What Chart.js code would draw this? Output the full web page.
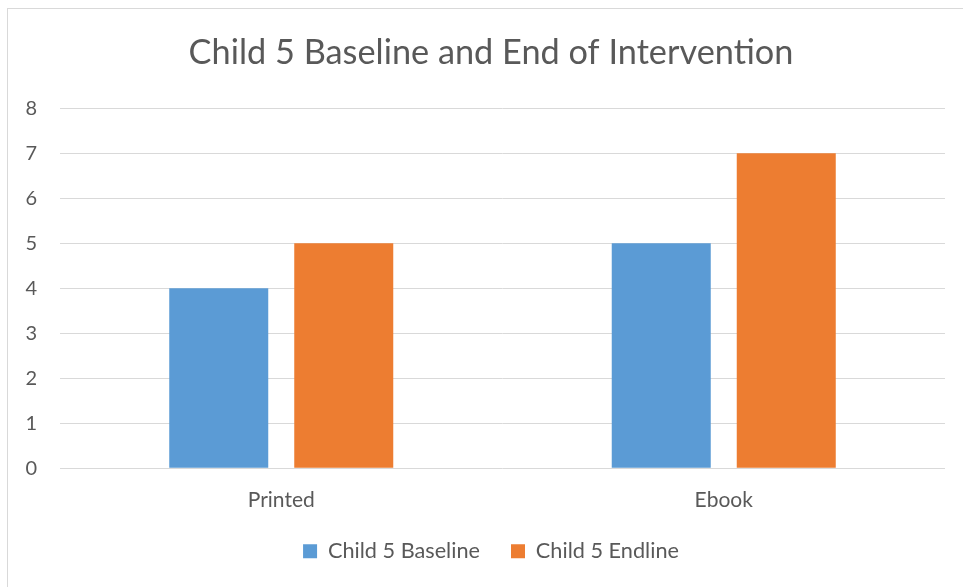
<!DOCTYPE html>
<html>
<head>
<meta charset="utf-8">
<script src="https://cdn.jsdelivr.net/npm/chart.js@4"></script>
<style>
  html, body { margin: 0; padding: 0; background: #ffffff; }
  #wrap { position: relative; width: 963px; height: 587px; }
</style>
</head>
<body>
<div id="wrap"><canvas id="c" width="963" height="587"></canvas></div>
<script>
// Categories and series
const categories = ['Printed', 'Ebook'];
const baselineScores = [4, 5];
const endlineScores = [5, 7];
const seriesNames = ['Child 5 Baseline', 'Child 5 Endline'];
const chartTitle = 'Child 5 Baseline and End of Intervention';
const yTicks = [0, 1, 2, 3, 4, 5, 6, 7, 8];

const FONT = 'Lato, "Open Sans", "Liberation Sans", sans-serif';
const TEXT = '#595959';
const GRID = '#d9d9d9';

// Light frame around the chart object; title and legend are centred
// on the frame rather than on the plot area.
const framePlugin = {
  id: 'frame',
  afterLayout(chart) {
    const inset = 37;
    if (chart.titleBlock) chart.titleBlock.left = inset;
    if (chart.legend) chart.legend.left = inset;
  },
  beforeDraw(chart) {
    const ctx = chart.ctx;
    ctx.save();
    ctx.fillStyle = '#ffffff';
    ctx.fillRect(0, 0, chart.width, chart.height);
    ctx.strokeStyle = GRID;
    ctx.lineWidth = 1;
    ctx.strokeRect(7.5, 8.5, chart.width + 10, chart.height + 10);
    ctx.restore();
  }
};

new Chart(document.getElementById('c'), {
  type: 'bar',
  data: {
    labels: categories,
    datasets: [
      { label: seriesNames[0], data: baselineScores, backgroundColor: '#5b9bd5' },
      { label: seriesNames[1], data: endlineScores, backgroundColor: '#ed7d31' }
    ]
  },
  options: {
    responsive: false,
    animation: false,
    devicePixelRatio: 1,
    categoryPercentage: 0.565,
    barPercentage: 0.792,
    layout: { padding: { left: 0, right: 18, top: 0, bottom: 15 } },
    plugins: {
      title: {
        display: true,
        text: chartTitle,
        color: TEXT,
        font: { family: FONT, size: 34.3, weight: 'normal' },
        padding: { top: 32, bottom: 35.2 }
      },
      legend: {
        position: 'bottom',
        labels: {
          color: TEXT,
          font: { family: FONT, size: 21.7 },
          boxWidth: 14,
          boxHeight: 14,
          padding: 31
        }
      },
      tooltip: { enabled: false }
    },
    scales: {
      x: {
        grid: { display: false, drawTicks: false },
        border: { display: false },
        ticks: { color: TEXT, font: { family: FONT, size: 21 }, padding: 19 },
        afterFit(s) { s.height = 41; }
      },
      y: {
        min: 0,
        max: 8,
        afterBuildTicks(s) { s.ticks = yTicks.map(v => ({ value: v })); },
        grid: { color: GRID, lineWidth: 1, drawTicks: false },
        border: { display: false },
        ticks: { color: TEXT, font: { family: FONT, size: 20 }, padding: 23 },
        afterFit(s) { s.width = 60; }
      }
    }
  },
  plugins: [framePlugin]
});
</script>
</body>
</html>
